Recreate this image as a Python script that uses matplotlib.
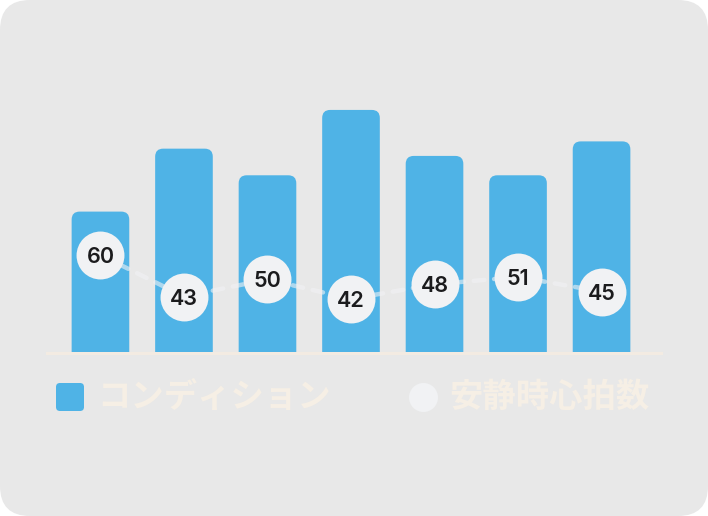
import numpy as np
import matplotlib
matplotlib.use("Agg")
import matplotlib.pyplot as plt
from matplotlib.patches import FancyBboxPatch, Circle

# data
days = ["1", "2", "3", "4", "5", "6", "7"]
condition = [58, 84, 73, 100, 81, 73, 87]
resting_hr = [60, 43, 50, 42, 48, 51, 45]

BAR_COLOR = "#4fb3e6"
DOT_COLOR = "#f1f2f4"
LABEL_COLOR = "#f6efe5"
BG_COLOR = "#e8e8e8"

W, H = 708, 516
fig = plt.figure(figsize=(W / 100, H / 100), dpi=100)
fig.patch.set_facecolor("white")

# background card in pixel coordinates
bg = fig.add_axes([0, 0, 1, 1], zorder=-1)
bg.set_xlim(0, W)
bg.set_ylim(H, 0)
bg.axis("off")
bg.add_patch(FancyBboxPatch((0, 0), W, H, boxstyle="round,pad=0,rounding_size=30",
                            fc=BG_COLOR, ec="none"))

# plot area: x 47..655 px, y 100..352 px
left, right, top, bottom = 47, 655, 100, 352
ax = fig.add_axes([left / W, 1 - bottom / H, (right - left) / W, (bottom - top) / H])
ax.set_facecolor("none")
x = np.arange(len(days))
ax.set_xlim(-0.64, len(days) - 1 + 0.64)
ax.set_ylim(0, 104.1)
ax.axis("off")

bars = ax.bar(x, condition, width=0.69, color=BAR_COLOR)
x_px = (right - left) / (ax.get_xlim()[1] - ax.get_xlim()[0])
y_px = (bottom - top) / (ax.get_ylim()[1] - ax.get_ylim()[0])
radius = 8 / x_px
for rect in bars:
    bx, bw, bh = rect.get_x(), rect.get_width(), rect.get_height()
    ax.add_patch(FancyBboxPatch((bx, -10), bw, bh + 10,
                                boxstyle=f"round,pad=0,rounding_size={radius}",
                                mutation_aspect=x_px / y_px,
                                fc=BAR_COLOR, ec="none", zorder=2))
    rect.remove()

ax.axhline(-0.6, xmin=0, xmax=1.01, color="#f3ebe2", lw=2.2, zorder=1, clip_on=False)

# resting heart rate on its own scale
ax2 = ax.twinx()
ax2.set_ylim(20.3, 123.4)
ax2.axis("off")
ax2.plot(x, resting_hr, color=DOT_COLOR, alpha=0.6, lw=3.2, dashes=(2.4, 2.2),
         dash_capstyle="round", zorder=4)
ax2.scatter(x, resting_hr, s=1190, color=DOT_COLOR, zorder=5, linewidths=0)
for xi, v in zip(x, resting_hr):
    ax2.text(xi, v, str(v), ha="center", va="center_baseline", fontsize=15.5,
             family="Inter", fontweight="semibold", color="#1b1b1d", zorder=6)

# legend
bg.add_patch(FancyBboxPatch((56, 383), 28, 28, boxstyle="round,pad=0,rounding_size=4",
                            fc=BAR_COLOR, ec="none"))
bg.text(97, 397, "コンディション", fontsize=24, fontweight="bold",
        family=["Noto Sans CJK JP", "DejaVu Sans"], color=LABEL_COLOR,
        ha="left", va="center")
bg.add_patch(Circle((423.5, 397.5), 14.5, fc=DOT_COLOR, ec="none"))
bg.text(449, 397, "安静時心拍数", fontsize=24, fontweight="bold",
        family=["Noto Sans CJK JP", "DejaVu Sans"], color=LABEL_COLOR,
        ha="left", va="center")

fig.savefig("out.png", dpi=100, facecolor=fig.get_facecolor())
